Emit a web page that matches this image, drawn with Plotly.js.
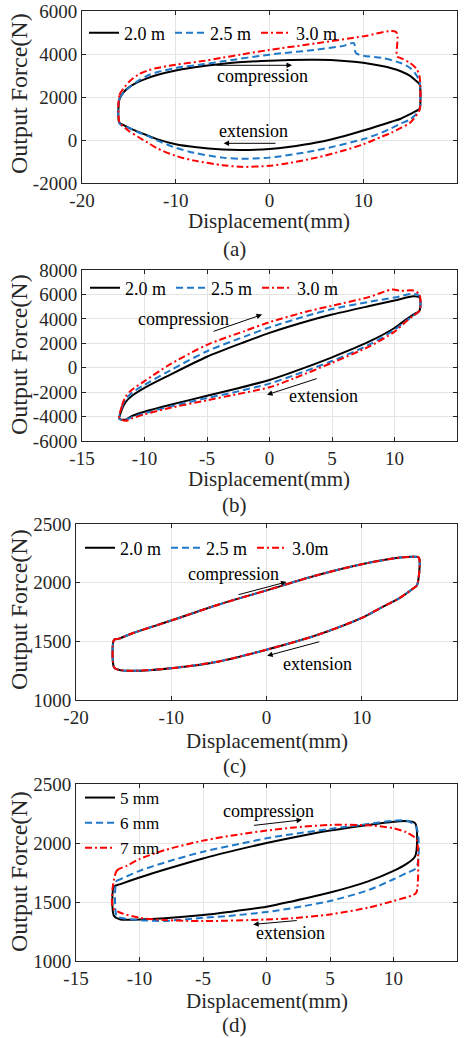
<!DOCTYPE html>
<html>
<head>
<meta charset="utf-8">
<script src="https://cdn.plot.ly/plotly-3.0.1.min.js"></script>
<style>html,body{margin:0;padding:0;background:#fff;}#chart{width:466px;height:1038px;}</style>
</head>
<body>
<div id="chart"></div>
<script>
// ---------- Panel (a) ----------
const a_x_20 = [-16, -16, -15.5, -15, -14, -13, -12, -10, -7, -5, 0, 5, 8, 10, 12, 13, 14, 15, 15.5, 16, 16.1, 16, 15.5, 15, 14, 13, 12, 10, 8, 5, 2, 0, -3, -5, -8, -10, -12, -13, -14, -15, -15.5, -16];
const a_y_20 = [800, 1900, 2250, 2450, 2700, 2880, 3020, 3230, 3440, 3550, 3690, 3730, 3680, 3590, 3440, 3340, 3200, 2980, 2800, 2600, 2000, 1450, 1320, 1200, 990, 850, 710, 440, 190, -120, -330, -420, -460, -440, -330, -200, 40, 210, 380, 560, 680, 800];
const a_x_25 = [-16, -16, -15.5, -15, -14, -13, -12, -10, -7, -5, 0, 5, 8, 9, 9.2, 10, 12, 14, 15, 15.5, 16, 16.1, 16, 15, 14, 13, 12, 10, 5, 0, -3, -5, -8, -10, -12, -13, -14, -15, -16];
const a_y_25 = [770, 1950, 2250, 2430, 2750, 3000, 3150, 3350, 3530, 3660, 3970, 4200, 4390, 4510, 4050, 3920, 3820, 3580, 3350, 3120, 2730, 2000, 1400, 960, 760, 550, 350, 40, -480, -820, -870, -820, -600, -360, -20, 190, 360, 570, 770];
const a_x_30 = [-16, -16, -15.5, -15, -14, -13, -12, -10, -7, -5, -3, 0, 5, 10, 13.5, 13.6, 14, 15, 15.7, 16, 16.1, 16, 15, 14, 13, 12, 10, 8, 5, 2, 0, -3, -5, -8, -10, -12, -13, -14, -15, -15.5, -16];
const a_y_30 = [800, 2100, 2430, 2700, 3040, 3230, 3350, 3500, 3680, 3830, 3980, 4190, 4500, 4820, 5020, 3890, 3810, 3580, 3300, 2970, 2000, 1400, 800, 560, 340, 160, -200, -480, -820, -1080, -1200, -1250, -1170, -960, -740, -380, -120, 140, 420, 600, 800];

// ---------- Panel (b) ----------
const b_x_20 = [-12, -11.8, -11.5, -11, -10, -8, -5, -2, 0, 3, 5, 8, 10, 11.5, 12, 12, 11.5, 11, 10, 8, 5, 2, 0, -3, -5, -8, -10, -11, -11.5, -12];
const b_y_20 = [-4200, -3400, -2800, -2300, -1650, -600, 900, 2100, 2850, 3800, 4350, 5050, 5500, 5850, 5750, 4670, 4350, 4000, 3250, 2150, 850, -300, -1000, -1800, -2300, -3050, -3600, -3950, -4250, -4200];
const b_x_25 = [-12, -11.8, -11.5, -11, -10, -8, -5, -2, 0, 3, 5, 8, 10, 11.5, 12, 12, 11.5, 11, 10, 8, 5, 2, 0, -3, -5, -8, -10, -11, -11.5, -12];
const b_y_25 = [-4200, -3200, -2550, -2050, -1400, -250, 1350, 2550, 3300, 4250, 4800, 5400, 5750, 6050, 5880, 4670, 4250, 3900, 3100, 1900, 550, -600, -1300, -2050, -2480, -3200, -3730, -4050, -4250, -4200];
const b_x_30 = [-12, -11.8, -11.5, -11, -10, -8, -5, -2, 0, 3, 5, 8, 9.8, 10.5, 11.5, 12, 12, 11.5, 11, 10, 8, 5, 2, 0, -3, -5, -8, -10, -11, -11.5, -12];
const b_y_30 = [-4150, -3100, -2350, -1800, -1100, 250, 1870, 3000, 3730, 4600, 5070, 5800, 6400, 6300, 6320, 6000, 4670, 4250, 3850, 2950, 1750, 400, -850, -1600, -2250, -2670, -3300, -3820, -4150, -4350, -4150];

// ---------- Panel (c) ----------
const c_x_20 = [-16, -16, -15.5, -14, -10, -5, 0, 5, 10, 14, 15.5, 16, 15.8, 15.5, 14, 12, 10, 5, 0, -5, -10, -14, -15.5, -16];
const c_y_20 = [1277, 1514, 1523, 1571, 1677, 1814, 1934, 2057, 2157, 2214, 2220, 2214, 1977, 1957, 1871, 1786, 1700, 1545, 1429, 1329, 1271, 1249, 1257, 1277];
const c_x_25 = [-16, -16, -15.5, -14, -10, -5, 0, 5, 10, 14, 15.5, 16, 15.8, 15.5, 14, 12, 10, 5, 0, -5, -10, -14, -15.5, -16];
const c_y_25 = [1277, 1514, 1523, 1571, 1677, 1814, 1934, 2057, 2157, 2214, 2220, 2214, 1977, 1957, 1871, 1786, 1700, 1545, 1429, 1329, 1271, 1249, 1257, 1277];
const c_x_30 = [-16, -16, -15.5, -14, -10, -5, 0, 5, 10, 14, 15.5, 16, 15.8, 15.5, 14, 12, 10, 5, 0, -5, -10, -14, -15.5, -16];
const c_y_30 = [1277, 1514, 1523, 1571, 1677, 1814, 1934, 2057, 2157, 2214, 2220, 2214, 1977, 1957, 1871, 1786, 1700, 1545, 1429, 1329, 1271, 1249, 1257, 1277];

// ---------- Panel (d) ----------
const d_x_5 = [-12, -12, -11.5, -10, -8, -5, -2, 0, 2, 5, 8, 10, 11, 11.7, 11.7, 11, 10, 8, 5, 2, 0, -3, -5, -8, -10, -11.5, -12];
const d_y_5 = [1381, 1631, 1651, 1707, 1775, 1869, 1950, 2000, 2045, 2105, 2153, 2180, 2185, 2168, 1886, 1821, 1764, 1675, 1580, 1505, 1460, 1415, 1389, 1362, 1352, 1352, 1381];
const d_x_6 = [-11.8, -11.8, -11.5, -10, -8, -5, -2, 0, 2, 5, 8, 10, 11, 11.8, 11.8, 11, 10, 8, 5, 2, 0, -3, -5, -8, -10, -11.5, -11.8];
const d_y_6 = [1380, 1679, 1693, 1764, 1835, 1926, 1995, 2040, 2075, 2119, 2162, 2188, 2190, 2134, 1790, 1745, 1693, 1600, 1509, 1448, 1415, 1382, 1366, 1340, 1347, 1366, 1380];
const d_x_7 = [-12.1, -11.8, -11, -10, -8, -5, -2, 0, 2, 5, 8, 10, 11, 11.8, 11.9, 11.8, 11.5, 10, 8, 5, 2, 0, -5, -8, -10, -11.5, -12.1];
const d_y_7 = [1450, 1764, 1807, 1864, 1940, 2020, 2075, 2105, 2130, 2153, 2150, 2125, 2091, 2034, 1991, 1580, 1557, 1509, 1452, 1395, 1362, 1352, 1338, 1347, 1366, 1409, 1450];

// ---------- names / ticks / texts ----------
const namesAB = ['2.0 m', '2.5 m', '3.0 m'];
const namesC = ['2.0 m', '2.5 m', '3.0m'];
const namesD = ['5 mm', '6 mm', '7 mm'];
const xtA = [-20, -10, 0, 10, 20], xtA_lab = ['-20', '-10', '0', '10', '20'];
const xtB = [-15, -10, -5, 0, 5, 10, 15], xtB_lab = ['-15', '-10', '-5', '0', '5', '10', '15'];
const ytA = [-2000, 0, 2000, 4000, 6000], ytA_lab = ['-2000', '0', '2000', '4000', '6000'];
const ytB = [-6000, -4000, -2000, 0, 2000, 4000, 6000, 8000], ytB_lab = ['-6000', '-4000', '-2000', '0', '2000', '4000', '6000', '8000'];
const ytC = [1000, 1500, 2000, 2500], ytC_lab = ['1000', '1500', '2000', '2500'];
const captions = ['(a)', '(b)', '(c)', '(d)'];
const xTitle = 'Displacement(mm)', yTitle = 'Output Force(N)';

const FONT = 'Liberation Serif, Times New Roman, serif';
const W = 466, H = 1038;
const BLACK = '#000000', BLUE = '#1f78c8', RED = '#ff0000';
const px = v => v / W, py = v => 1 - v / H;

function tr(x, y, name, color, dash, idx, leg) {
  const s = idx === 1 ? '' : String(idx);
  return {x: x, y: y, name: name, type: 'scatter', mode: 'lines',
          line: {color: color, width: 2, dash: dash, shape: 'spline', smoothing: 0.8},
          xaxis: 'x' + s, yaxis: 'y' + s, legend: leg, hoverinfo: 'skip'};
}
const DASH = '7px,4px', DASHDOT = '7px,3px,2px,3px';

const data = [
  tr(a_x_20, a_y_20, namesAB[0], BLACK, 'solid', 1, 'legend'),
  tr(a_x_25, a_y_25, namesAB[1], BLUE, DASH, 1, 'legend'),
  tr(a_x_30, a_y_30, namesAB[2], RED, DASHDOT, 1, 'legend'),
  tr(b_x_20, b_y_20, namesAB[0], BLACK, 'solid', 2, 'legend2'),
  tr(b_x_25, b_y_25, namesAB[1], BLUE, DASH, 2, 'legend2'),
  tr(b_x_30, b_y_30, namesAB[2], RED, DASHDOT, 2, 'legend2'),
  tr(c_x_20, c_y_20, namesC[0], BLACK, 'solid', 3, 'legend3'),
  tr(c_x_25, c_y_25, namesC[1], BLUE, DASH, 3, 'legend3'),
  tr(c_x_30, c_y_30, namesC[2], RED, DASHDOT, 3, 'legend3'),
  tr(d_x_5, d_y_5, namesD[0], BLACK, 'solid', 4, 'legend4'),
  tr(d_x_6, d_y_6, namesD[1], BLUE, DASH, 4, 'legend4'),
  tr(d_x_7, d_y_7, namesD[2], RED, DASHDOT, 4, 'legend4')
];

const AXCOL = '#262626';
function ax(dom, range, tv, tt, anchor) {
  return {domain: dom, range: range, tickvals: tv, ticktext: tt, anchor: anchor,
    showline: true, mirror: 'ticks', linecolor: AXCOL, linewidth: 1,
    ticks: 'inside', ticklen: 4, tickcolor: AXCOL, showgrid: true, gridcolor: '#e4e4e4', zeroline: false,
    tickfont: {family: FONT, size: 19, color: AXCOL}, fixedrange: true};
}
function legend(x, y, horiz, size) {
  return {x: x, y: y, xanchor: 'left', yanchor: 'middle', orientation: horiz ? 'h' : 'v',
    bgcolor: 'rgba(0,0,0,0)', borderwidth: 0, font: {family: FONT, size: size, color: '#000'},
    tracegroupgap: 0, itemclick: false, itemdoubleclick: false};
}
function arrow(xref, yref, hx, hy, tx, ty) {
  return {xref: xref, yref: yref, axref: xref, ayref: yref, x: hx, y: hy, ax: tx, ay: ty,
    text: '', showarrow: true, arrowhead: 2, arrowsize: 1.1, arrowwidth: 1, arrowcolor: '#000'};
}
function label(xref, yref, x, y, text) {
  return {xref: xref, yref: yref, x: x, y: y, text: text, showarrow: false,
    font: {family: FONT, size: 18, color: '#000'}};
}
function ptext(x, y, text, size, angle) {
  return {xref: 'paper', yref: 'paper', x: px(x), y: py(y), text: text, showarrow: false,
    xanchor: 'center', yanchor: 'middle', textangle: angle || 0, font: {family: FONT, size: size, color: AXCOL}};
}

const domXab = [px(82), px(457)], domXcd = [px(76), px(457)];
const layout = {
  width: W, height: H, margin: {l: 0, r: 0, t: 0, b: 0}, paper_bgcolor: '#fff', plot_bgcolor: '#fff',
  showlegend: true, font: {family: FONT},
  xaxis: ax(domXab, [-20, 20], xtA, xtA_lab, 'y'),
  yaxis: ax([py(183), py(11)], [-2000, 6000], ytA, ytA_lab, 'x'),
  xaxis2: ax(domXab, [-15, 15], xtB, xtB_lab, 'y2'),
  yaxis2: ax([py(441), py(270)], [-6000, 8000], ytB, ytB_lab, 'x2'),
  xaxis3: ax(domXcd, [-20, 20], xtA, xtA_lab, 'y3'),
  yaxis3: ax([py(700), py(524)], [1000, 2500], ytC, ytC_lab, 'x3'),
  xaxis4: ax(domXcd, [-15, 15], xtB, xtB_lab, 'y4'),
  yaxis4: ax([py(961), py(784)], [1000, 2500], ytC, ytC_lab, 'x4'),
  legend: legend(px(84), py(33), true, 18),
  legend2: legend(px(85), py(288), true, 18),
  legend3: legend(px(80), py(548), true, 18),
  legend4: legend(px(80), py(823), false, 17),
  annotations: [
    arrow('x', 'y', 2.4, 3475, -5.8, 3475),
    label('x', 'y', -0.8, 2965, 'compression'),
    arrow('x', 'y', -4.9, -154, 0.8, -154),
    label('x', 'y', -1.7, 417, 'extension'),
    arrow('x2', 'y2', -0.6, 4347, -4.6, 2933),
    label('x2', 'y2', -6.9, 4000, 'compression'),
    arrow('x2', 'y2', -0.2, -2213, 3.9, -853),
    label('x2', 'y2', 4.3, -2320, 'extension'),
    arrow('x3', 'y3', 2.1, 2006, -3.1, 1894),
    label('x3', 'y3', -3.5, 2077, 'compression'),
    arrow('x3', 'y3', 0.07, 1377, 5.7, 1500),
    label('x3', 'y3', 5.4, 1306, 'extension'),
    arrow('x4', 'y4', 2.8, 2196, -1.1, 2148),
    label('x4', 'y4', 0.13, 2267, 'compression'),
    arrow('x4', 'y4', -1.05, 1310, 2.5, 1344),
    label('x4', 'y4', 1.85, 1239, 'extension'),
    ptext(269, 221, xTitle, 21), ptext(269, 479, xTitle, 21), ptext(267, 741, xTitle, 21), ptext(267, 1001, xTitle, 21),
    ptext(19, 94, yTitle, 24, -90), ptext(19, 355, yTitle, 24, -90), ptext(19, 610, yTitle, 24, -90), ptext(19, 872, yTitle, 24, -90),
    ptext(234, 249, captions[0], 21), ptext(234, 505, captions[1], 21), ptext(234, 766, captions[2], 21), ptext(234, 1025, captions[3], 21)
  ]
};

Plotly.newPlot('chart', data, layout, {staticPlot: true, displayModeBar: false});
</script>
</body>
</html>
